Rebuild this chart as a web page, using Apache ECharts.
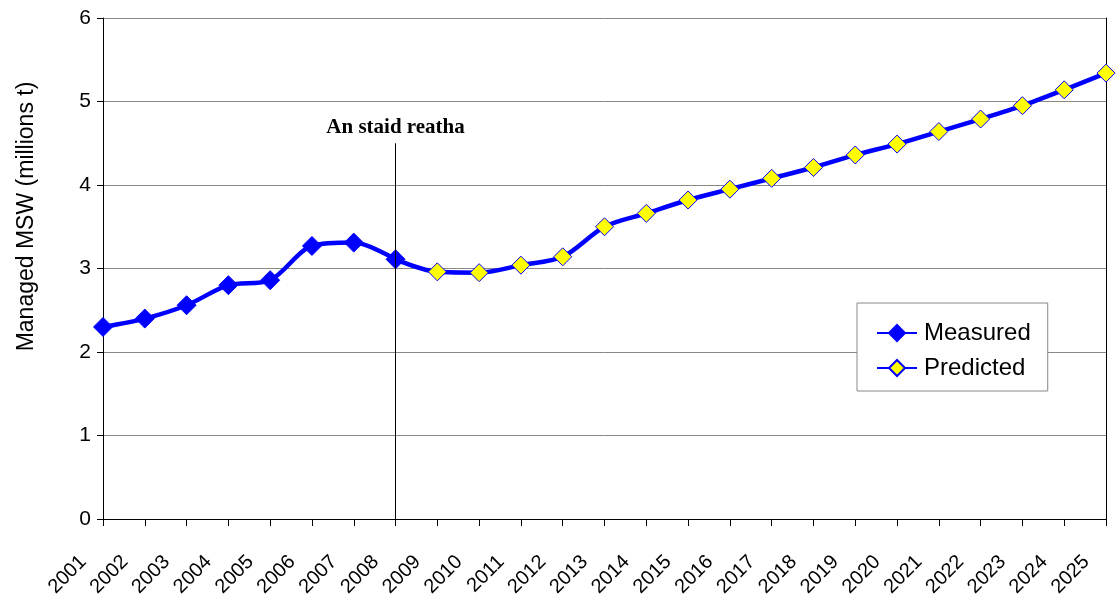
<!DOCTYPE html>
<html><head><meta charset="utf-8">
<script src="https://cdn.jsdelivr.net/npm/echarts@6/dist/echarts.min.js"></script>
<style>html,body{margin:0;padding:0;background:#fff}#c{width:1118px;height:601px}</style>
</head><body><div id="c"></div>
<script>
var years = ['2001','2002','2003','2004','2005','2006','2007','2008','2009','2010','2011','2012','2013','2014','2015','2016','2017','2018','2019','2020','2021','2022','2023','2024','2025'];
var measured = [2.30,2.40,2.56,2.80,2.86,3.27,3.31,3.11];
var predicted = [2.96,2.95,3.04,3.14,3.50,3.66,3.82,3.95,4.08,4.21,4.36,4.49,4.64,4.79,4.95,5.14,5.34];
var yTicks = [0,1,2,3,4,5,6];
var markerYear = '2008';
var markerTop = 4.5;
var markerText = 'An staid reatha';

var measuredData = years.map(function(y,i){ return i < measured.length ? measured[i] : '-'; });
var predictedData = years.map(function(y,i){
  var j = i - measured.length;
  if (i === measured.length - 1) return {value: measured[i], symbol: 'none'};
  return j >= 0 ? predicted[j] : '-';
});

var chart = echarts.init(document.getElementById('c'), null, {renderer:'canvas'});
chart.setOption({
  animation:false,
  grid:{left:103,right:12,top:18,bottom:82},
  legend:{
    orient:'vertical', left:857, top:303,
    padding:[18,17,11,19], itemGap:11, itemWidth:40, itemHeight:20,
    borderColor:'#888', borderWidth:1, backgroundColor:'#fff',
    textStyle:{fontFamily:'Liberation Sans, Arial', fontSize:24, color:'#000', padding:[0,0,0,2]},
    data:['Measured','Predicted']
  },
  xAxis:{
    type:'category', data:years, boundaryGap:false,
    axisLine:{lineStyle:{color:'#000',width:1}},
    axisTick:{show:true,length:7,lineStyle:{color:'#000'}},
    axisLabel:{rotate:45,fontFamily:'Liberation Sans, Arial',fontSize:20,color:'#000',margin:20,interval:0,padding:[0,28,0,0]},
    splitLine:{show:false}
  },
  yAxis:[{
    type:'value', min:0, max:6, interval:1,
    name:'Managed MSW (millions t)', nameLocation:'middle', nameGap:65,
    nameTextStyle:{fontFamily:'Liberation Sans, Arial',fontSize:23,color:'#000',padding:[0,0,0,104]},
    axisLine:{show:true,lineStyle:{color:'#000'}},
    axisTick:{show:true,length:6,lineStyle:{color:'#000'}},
    axisLabel:{fontFamily:'Liberation Sans, Arial',fontSize:21,color:'#000',margin:12,
      formatter:function(v){return yTicks.indexOf(v)>=0?String(v):'';}},
    splitLine:{show:true,lineStyle:{color:'#888',width:1}}
  },{
    type:'value', min:0, max:6, interval:1, position:'right',
    axisLine:{show:true,lineStyle:{color:'#000'}},
    axisTick:{show:false}, axisLabel:{show:false}, splitLine:{show:false}
  }],
  series:[{
    name:'Predicted', type:'line', data:predictedData, smooth:0.3, z:2,
    symbol:'diamond', symbolSize:18,
    lineStyle:{color:'#0000ff',width:4.5},
    itemStyle:{color:'#ffff00',borderColor:'#0000ff',borderWidth:1},
    markLine:{
      silent:true, symbol:['none','none'],
      lineStyle:{color:'#000',width:1,type:'solid'},
      label:{show:true,position:'end',formatter:markerText,
        fontFamily:'Liberation Serif, Times New Roman',fontWeight:'bold',fontSize:21,color:'#000',distance:5},
      data:[[{coord:[markerYear,0]},{coord:[markerYear,markerTop]}]]
    }
  },{
    name:'Measured', type:'line', data:measuredData, smooth:0.3, z:3,
    symbol:'diamond', symbolSize:19,
    lineStyle:{color:'#0000ff',width:4.5},
    itemStyle:{color:'#0000ff',borderColor:'#0000ff',borderWidth:1}
  }]
});
</script></body></html>
